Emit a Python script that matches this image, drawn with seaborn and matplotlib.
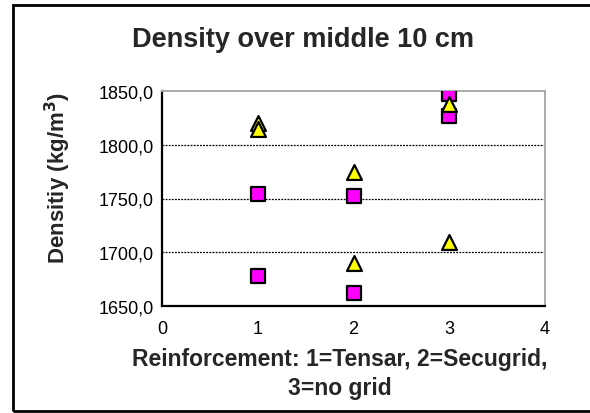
import matplotlib
matplotlib.use("Agg")
import matplotlib.pyplot as plt
import seaborn as sns
import pandas as pd
from matplotlib.patches import Rectangle
from matplotlib.ticker import FuncFormatter

sns.set_style("white")
plt.rcParams['font.family'] = ['Liberation Sans', 'DejaVu Sans']

reinf_sq = [1, 1, 2, 2, 3, 3]
dens_sq = [1754, 1678, 1752, 1662, 1847, 1827]
reinf_tri = [1, 1, 2, 2, 3, 3]
dens_tri = [1820, 1815, 1775, 1690, 1710, 1838]

df = pd.DataFrame({
    "x": reinf_sq + reinf_tri,
    "y": dens_sq + dens_tri,
    "series": ["sq"] * len(reinf_sq) + ["tri"] * len(reinf_tri),
})

W, H = 590, 414
fig = plt.figure(figsize=(5.9, 4.14), dpi=100)
ax = fig.add_axes([162/W, 1 - 307/H, (545-162)/W, (307-92)/H])

for y in [1700, 1750, 1800]:
    ax.axhline(y, color="black", linestyle=(0, (1.5, 1)), linewidth=0.9, zorder=1)

sns.scatterplot(data=df[df.series == "sq"], x="x", y="y", marker="s", s=100,
                color="#FF00FF", edgecolor="black", linewidth=1.6, ax=ax, zorder=3, legend=False)
sns.scatterplot(data=df[df.series == "tri"], x="x", y="y", marker="^", s=115,
                color="#FFFF00", edgecolor="black", linewidth=1.6, ax=ax, zorder=4, legend=False,
                clip_on=False)

ax.set_xlim(0, 4)
ax.set_ylim(1650, 1850)
ax.set_xticks([0, 1, 2, 3, 4])
ax.set_yticks([1650, 1700, 1750, 1800, 1850])
ax.yaxis.set_major_formatter(FuncFormatter(lambda v, p: f"{v:.1f}".replace(".", ",")))
ax.tick_params(axis="y", direction="inout", length=8, width=1.3, labelsize=13, colors="black", pad=2)
ax.tick_params(axis="x", direction="in", length=5, width=1.3, labelsize=13, colors="black", pad=10)
for s in ["left", "bottom"]:
    ax.spines[s].set_color("black")
    ax.spines[s].set_linewidth(1.6)
for s in ["top", "right"]:
    ax.spines[s].set_color("#aaaaaa")
    ax.spines[s].set_linewidth(1.4)
ax.set_xlabel("")
ax.set_ylabel("")

fig.text(340/W, 1 - 360/H, "Reinforcement: 1=Tensar, 2=Secugrid,", ha="center", va="center",
         fontsize=16.5, fontweight="bold")
fig.text(340/W, 1 - 389/H, "3=no grid", ha="center", va="center",
         fontsize=16.5, fontweight="bold")
fig.text(58/W, 1 - 178/H, "Densitiy (kg/m$^\\mathbf{3}$)", ha="center", va="center", rotation=90,
         fontsize=16, fontweight="bold")
fig.text(303/W, 1 - 40/H, "Density over middle 10 cm", ha="center", va="center",
         fontsize=19.5, fontweight="bold")

fig.patches.append(Rectangle((13/W, 2/H), 1.0, 1 - 8/H, transform=fig.transFigure,
                             fill=False, edgecolor="black", linewidth=2, clip_on=False))

fig.savefig("out.png", dpi=100)
